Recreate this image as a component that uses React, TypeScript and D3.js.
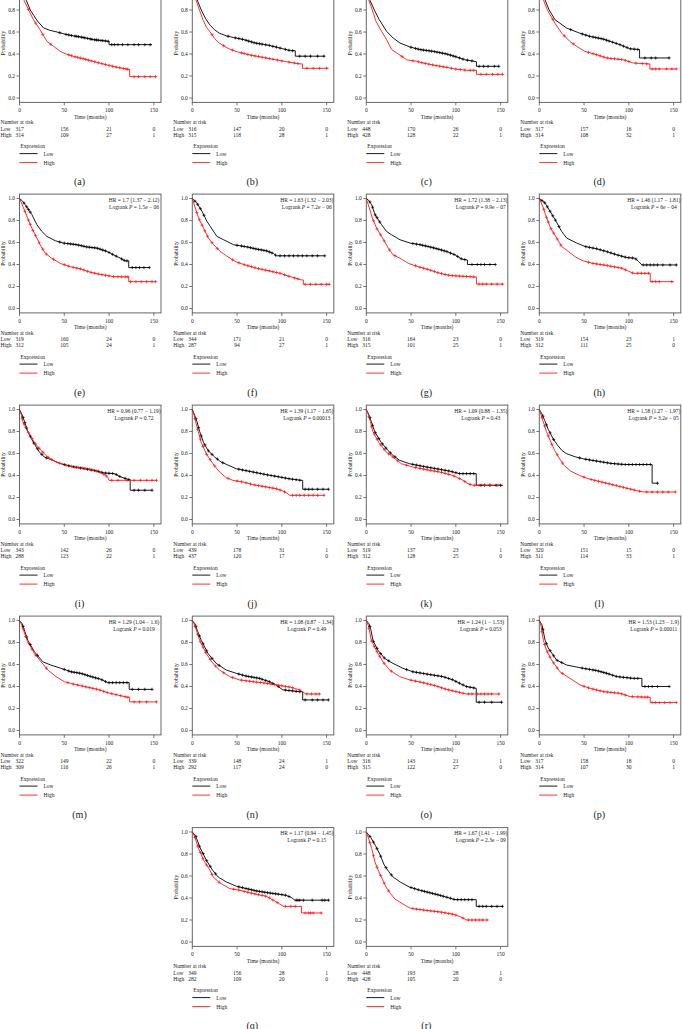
import React from "react";
import * as d3 from "d3";

type Pt = [number, number];

// ---------- data: knots of each Kaplan-Meier curve (time in months, survival) ----------
const aLow: Pt[] = [[0,1],[3,0.96],[7.5,0.89],[12,0.8],[16,0.75],[20,0.7],[27,0.636],[34,0.615],[42,0.6],[51,0.58],[60,0.565],[68,0.555],[83,0.53],[100,0.515],[100,0.485],[148,0.485]];
const aLowC = [45,52,55,58,62,64,66,69,71,73,76,79,81,84,86,88,91,93,96,99,103,106,110,115,121,128,133,140,146];
const aHigh: Pt[] = [[0,1],[2,0.95],[5,0.89],[12,0.77],[15.7,0.71],[23,0.62],[30.6,0.515],[38,0.47],[45.5,0.424],[51,0.403],[60,0.379],[72,0.355],[86.6,0.324],[98,0.3],[109,0.279],[123,0.258],[123,0.194],[152.6,0.194]];
const aHighC = [10,18,26,35,55,58,62,65,68,71,74,77,80,84,88,92,96,100,104,108,112,116,119,121,128,133,140,146,152];

const bLow: Pt[] = [[0,1],[3,0.95],[6,0.88],[10,0.8],[15,0.72],[20,0.66],[25,0.62],[30,0.59],[38,0.565],[46,0.55],[58,0.53],[70,0.5],[85,0.48],[95,0.46],[100,0.45],[110,0.43],[115,0.43],[115,0.38],[148,0.38]];
const bLowC = [40,48,52,56,60,63,66,69,72,75,78,82,86,90,94,98,104,108,112,120,126,132,140,147];
const bHigh: Pt[] = [[0,1],[2,0.94],[5,0.87],[8,0.8],[12,0.71],[16,0.64],[20,0.6],[25,0.54],[30,0.5],[40,0.45],[50,0.42],[65,0.39],[85,0.36],[105,0.33],[120,0.31],[123,0.31],[123,0.27],[152,0.27]];
const bHighC = [22,35,45,55,58,62,66,70,74,78,82,86,90,95,100,108,114,118,128,135,142,150];

const cLow: Pt[] = [[0,1],[2,0.95],[4,0.89],[9,0.8],[14.5,0.712],[22.7,0.606],[30,0.545],[37.6,0.5],[48.7,0.464],[60,0.44],[74.8,0.424],[89.7,0.4],[100.8,0.373],[110,0.348],[123,0.33],[123,0.288],[148.4,0.288]];
const cLowC = [50,55,58,61,64,67,70,73,76,79,82,85,88,91,94,97,100,104,108,113,118,126,131,136,143,148];
const cHigh: Pt[] = [[0,1],[1.5,0.95],[2.6,0.894],[6.7,0.8],[10.8,0.697],[17,0.606],[22.7,0.53],[28.3,0.44],[35.7,0.4],[45,0.348],[56,0.333],[67,0.312],[78.5,0.294],[89.7,0.279],[99,0.264],[112,0.252],[123,0.252],[123,0.215],[152.9,0.215]];
const cHighC = [40,52,58,62,66,70,74,78,82,86,90,95,100,105,110,116,120,128,134,141,147,152];

const dLow: Pt[] = [[0,1],[3,0.96],[6.3,0.894],[11,0.8],[17.5,0.712],[30.5,0.636],[45,0.59],[56.5,0.56],[71.4,0.536],[79,0.515],[90,0.485],[101,0.448],[112,0.44],[112,0.364],[145.8,0.364]];
const dLowC = [35,48,52,56,60,63,66,69,72,75,78,82,86,90,94,98,102,106,110,118,125,130,145];
const dHigh: Pt[] = [[0,1],[2,0.95],[4.5,0.894],[9,0.8],[17.5,0.68],[25,0.59],[34,0.515],[41.7,0.47],[51,0.424],[64,0.394],[75,0.364],[93.8,0.348],[105,0.318],[123.5,0.309],[123.5,0.264],[153,0.264]];
const dHighC = [15,28,38,55,60,64,68,72,76,80,84,88,92,96,100,108,115,120,126,130,134,142,148,153];

const eLow: Pt[] = [[0,1],[3,0.98],[6.3,0.945],[13.8,0.854],[19.4,0.762],[25,0.7],[30.6,0.655],[40,0.616],[49,0.595],[64,0.58],[75,0.56],[86.6,0.549],[98,0.518],[105,0.488],[112.7,0.457],[118,0.433],[122,0.433],[122,0.372],[145,0.372]];
const eLowC = [5,8,10,12,45,50,54,57,60,63,66,69,72,75,78,81,84,87,90,93,96,100,104,108,114,117,120,126,130,134,139,145];
const eHigh: Pt[] = [[0,1],[4.5,0.915],[9,0.823],[13.8,0.73],[19.4,0.64],[23,0.58],[28.7,0.503],[36,0.457],[45.5,0.41],[56.7,0.38],[68,0.36],[79,0.33],[90,0.31],[105,0.29],[122,0.287],[122,0.244],[152.6,0.244]];
const eHighC = [6,10,12,15,18,22,26,30,38,50,55,60,64,68,72,76,80,84,88,92,96,100,105,110,114,118,121,124,130,136,142,148,152];

const fLow: Pt[] = [[0,1],[5,0.96],[10.8,0.884],[16.3,0.793],[20,0.747],[27.5,0.655],[35,0.625],[46,0.58],[61,0.56],[72,0.54],[83,0.524],[90.6,0.5],[94,0.479],[148,0.479]];
const fLowC = [3,6,9,13,50,55,58,62,65,68,71,74,77,80,83,86,89,93,98,103,108,113,118,123,128,134,140,148];
const fHigh: Pt[] = [[0,1],[3.3,0.915],[7,0.823],[12.6,0.73],[18,0.64],[23.8,0.58],[31,0.52],[38.6,0.476],[48,0.427],[59,0.396],[72,0.366],[87,0.34],[98,0.32],[109,0.29],[122,0.26],[124,0.26],[124,0.22],[153.7,0.22]];
const fHighC = [5,8,11,14,17,22,28,45,52,58,62,66,70,74,78,82,86,90,94,98,103,108,114,118,126,132,138,144,150,153];

const gLow: Pt[] = [[0,1],[3,0.98],[6,0.945],[9.7,0.854],[17,0.762],[22.7,0.7],[28.3,0.67],[37.6,0.625],[48.8,0.595],[60,0.58],[71,0.56],[80.4,0.54],[89.7,0.518],[99,0.488],[106.4,0.45],[113,0.44],[113,0.4],[144.4,0.4]];
const gLowC = [4,7,10,12,15,52,56,60,63,66,69,72,75,78,81,84,87,90,94,98,102,106,110,118,124,128,132,138,144];
const gHigh: Pt[] = [[0,1],[3.3,0.915],[6.7,0.823],[11.5,0.73],[18.2,0.64],[24.6,0.549],[30,0.488],[37.6,0.457],[47,0.41],[58,0.38],[71,0.35],[82,0.32],[93.4,0.3],[121,0.287],[123,0.287],[123,0.222],[153,0.222]];
const gHighC = [8,12,16,20,26,32,55,60,64,68,72,76,80,84,88,92,96,100,104,108,112,116,120,126,130,134,140,146,152];

const hLow: Pt[] = [[0,1],[6.3,0.96],[12,0.884],[18.7,0.793],[25,0.7],[30.6,0.64],[41.8,0.595],[51,0.564],[64,0.543],[75,0.518],[86.6,0.488],[97.8,0.463],[107,0.457],[110.8,0.427],[114.6,0.396],[153.7,0.396]];
const hLowC = [3,6,9,12,15,18,22,52,56,60,64,68,72,76,80,84,88,92,96,100,104,108,116,120,124,128,132,138,146,153];
const hHigh: Pt[] = [[0,1],[4.5,0.915],[8.2,0.823],[12.7,0.73],[19.4,0.64],[25,0.564],[32.5,0.518],[40,0.47],[49,0.433],[60,0.41],[71.6,0.396],[82.8,0.38],[92,0.366],[99.6,0.34],[105,0.32],[123.9,0.32],[123.9,0.244],[150,0.244]];
const hHighC = [5,8,10,13,16,20,24,55,60,64,68,72,76,80,84,88,92,96,104,110,114,118,122,126,130,134,148];

const iLow: Pt[] = [[0,1],[3,0.95],[5.6,0.89],[9.3,0.8],[15.6,0.7],[22.3,0.613],[27.8,0.568],[37,0.538],[46.4,0.507],[57.5,0.483],[72.4,0.462],[87,0.44],[94.7,0.423],[106,0.417],[113,0.387],[122.5,0.362],[123.6,0.362],[123.6,0.266],[148.5,0.266]];
const iLowC = [4,6,8,12,16,20,25,30,50,55,60,64,68,72,76,80,84,88,92,96,100,104,108,112,118,122,128,133,140,148];
const iHigh: Pt[] = [[0,1],[2,0.95],[3.7,0.89],[9.3,0.8],[16.7,0.7],[24,0.628],[31.6,0.568],[40.8,0.522],[50,0.498],[61,0.477],[76,0.462],[87,0.438],[94.7,0.41],[98.4,0.387],[100,0.356],[153,0.356]];
const iHighC = [3,5,7,10,14,18,22,26,32,36,45,52,58,62,66,70,74,78,82,86,90,94,97,103,110,120,128,135,142,148,153];

const jLow: Pt[] = [[0,1],[2.5,0.95],[5.2,0.89],[8.2,0.8],[12.6,0.7],[17.5,0.628],[25,0.568],[32.3,0.522],[49,0.462],[67.6,0.432],[82.4,0.408],[97.3,0.387],[108.4,0.37],[121.4,0.356],[123.3,0.356],[123.3,0.275],[152,0.275]];
const jLowC = [4,7,10,14,18,22,28,34,52,56,60,64,68,72,76,80,84,88,92,96,100,104,108,112,116,120,126,130,134,140,146,152];
const jHigh: Pt[] = [[0,1],[2,0.95],[3.7,0.89],[6.7,0.8],[10,0.7],[15.6,0.598],[23,0.507],[30.4,0.432],[37.9,0.38],[45.3,0.356],[56.4,0.341],[67.6,0.317],[82.4,0.296],[93.6,0.28],[101,0.26],[106.6,0.236],[108.4,0.22],[147.4,0.22]];
const jHighC = [3,6,9,12,16,20,25,40,50,55,60,65,70,74,78,82,86,90,94,98,103,112,116,120,125,130,135,140,147];

const kLow: Pt[] = [[0,1],[3,0.95],[5.6,0.89],[9.3,0.8],[16.7,0.7],[24.2,0.628],[29.8,0.583],[37.2,0.538],[48.4,0.507],[63.3,0.483],[78,0.462],[93,0.44],[104,0.417],[122.8,0.417],[122.8,0.311],[152.6,0.311]];
const kLowC = [4,7,10,14,18,22,27,32,52,56,60,64,68,72,76,80,84,88,92,96,100,104,108,112,116,120,128,132,138,145,150];
const kHigh: Pt[] = [[0,1],[2.5,0.95],[4.5,0.89],[7.4,0.8],[14,0.7],[22.3,0.613],[29.8,0.568],[39,0.507],[52,0.477],[67,0.453],[82,0.432],[96.8,0.4],[102,0.38],[108,0.356],[113.5,0.326],[119,0.311],[147,0.311]];
const kHighC = [3,6,9,12,16,20,25,30,35,45,55,60,64,68,72,76,80,84,88,92,98,104,110,116,121,126,132,138,147];

const lLow: Pt[] = [[0,1],[3,0.96],[6,0.9],[10,0.82],[15,0.74],[20,0.68],[25,0.63],[30,0.6],[40,0.57],[50,0.55],[65,0.53],[80,0.51],[95,0.5],[126,0.5],[126,0.33],[132,0.33]];
const lLowC = [4,8,12,16,45,52,56,60,64,68,72,76,80,84,88,92,96,100,104,108,112,116,120,124,132];
const lHigh: Pt[] = [[0,1],[2,0.95],[4,0.9],[8,0.8],[12,0.72],[17,0.63],[22,0.56],[28,0.49],[35,0.44],[45,0.4],[55,0.37],[70,0.34],[85,0.31],[100,0.28],[110,0.26],[118,0.25],[152,0.25]];
const lHighC = [3,6,10,14,20,26,50,58,62,66,70,74,78,82,86,90,94,98,102,106,112,120,126,132,138,144,152];

const mLow: Pt[] = [[0,1],[3,0.97],[6,0.9],[9.3,0.82],[16.7,0.715],[26,0.625],[35,0.595],[46.4,0.565],[57.5,0.534],[68.7,0.519],[80,0.49],[91,0.465],[98.4,0.435],[122.5,0.435],[122.5,0.374],[148.5,0.374]];
const mLowC = [4,8,12,20,50,55,58,61,64,67,70,73,76,79,82,85,88,92,96,100,104,108,112,116,120,126,133,140,148];
const mHigh: Pt[] = [[0,1],[3,0.95],[5,0.9],[8.5,0.82],[16.7,0.7],[24,0.625],[31.6,0.55],[40.8,0.49],[50,0.444],[61,0.42],[72.4,0.4],[87.3,0.374],[98.4,0.344],[109.5,0.323],[120.7,0.302],[123,0.302],[123,0.26],[153,0.26]];
const mHighC = [4,7,10,14,18,30,54,60,65,70,74,78,82,86,90,94,98,103,108,113,118,121,128,134,142,153];

const nLow: Pt[] = [[0,1],[3,0.97],[6,0.9],[10,0.82],[17.5,0.7],[26.7,0.61],[37.9,0.55],[49,0.52],[60,0.495],[75,0.474],[86,0.444],[93.6,0.414],[101,0.37],[119.6,0.353],[123.3,0.353],[123.3,0.278],[152,0.278]];
const nLowC = [4,8,12,16,22,30,52,56,60,63,66,69,72,75,78,82,86,90,96,104,108,112,116,120,126,134,140,146,152];
const nHigh: Pt[] = [[0,1],[3,0.95],[5,0.9],[8.2,0.82],[15.6,0.7],[23,0.61],[30.4,0.55],[41.6,0.49],[52.7,0.46],[67.6,0.444],[82.4,0.43],[101,0.405],[110,0.393],[119.6,0.37],[127,0.332],[141.8,0.332]];
const nHighC = [3,6,9,12,15,20,26,35,45,55,60,64,68,72,76,80,84,88,92,96,100,104,108,112,120,128,133,138,142];

const oLow: Pt[] = [[0,1],[3,0.97],[5,0.92],[7.4,0.82],[13,0.73],[20.5,0.655],[29.8,0.61],[41,0.565],[52,0.534],[63.3,0.519],[74.4,0.504],[85.6,0.49],[96.8,0.46],[104,0.43],[111.6,0.4],[122.8,0.383],[122.8,0.257],[151.8,0.257]];
const oLowC = [4,8,12,16,20,25,45,52,56,60,64,68,72,76,80,84,88,92,96,100,104,108,112,116,120,126,132,140,151];
const oHigh: Pt[] = [[0,1],[2.5,0.95],[5.6,0.82],[11,0.73],[18.6,0.625],[26,0.55],[37.2,0.49],[48.4,0.46],[63.3,0.435],[78,0.405],[89.3,0.374],[100.5,0.353],[111.6,0.332],[148.9,0.332]];
const oHighC = [3,6,9,12,15,20,28,50,55,60,64,68,72,76,80,84,88,92,96,100,104,108,114,118,124,128,132,136,140,148];

const pLow: Pt[] = [[0,1],[3,0.96],[6.5,0.82],[10,0.75],[19.4,0.64],[30.6,0.595],[49.3,0.565],[64,0.545],[75.4,0.52],[86.6,0.49],[105,0.474],[114.6,0.474],[114.6,0.4],[146,0.4]];
const pLowC = [4,8,12,16,20,25,48,52,56,60,63,66,69,72,75,78,82,86,90,94,98,102,106,110,118,122,126,132,145];
const pHigh: Pt[] = [[0,1],[2,0.95],[4.5,0.82],[8,0.73],[13.8,0.64],[23,0.534],[34.3,0.474],[45.5,0.414],[56.7,0.383],[71.6,0.353],[90.3,0.338],[101.5,0.308],[123.9,0.302],[123.9,0.254],[153.7,0.254]];
const pHighC = [3,6,9,12,16,20,26,50,55,60,64,68,72,76,80,84,88,92,96,104,110,114,118,121,126,130,134,140,146,153];

const qLow: Pt[] = [[0,1],[4,0.96],[8.2,0.866],[15.6,0.745],[22.7,0.652],[29,0.59],[38.3,0.545],[49.5,0.506],[60.7,0.485],[71.8,0.464],[86.7,0.445],[97.9,0.433],[105,0.424],[111,0.403],[114.6,0.38],[153,0.38]];
const qLowC = [4,8,12,16,20,26,52,56,60,63,66,69,72,75,78,81,84,87,90,93,96,100,104,108,116,118,120,124,134,145,148,152];
const qHigh: Pt[] = [[0,1],[3,0.95],[6.3,0.866],[12.6,0.745],[19.7,0.652],[23.4,0.59],[31,0.536],[42,0.485],[53.2,0.47],[68,0.44],[83,0.415],[90.4,0.38],[96,0.354],[101.6,0.324],[122,0.324],[122,0.264],[144.4,0.264]];
const qHighC = [3,6,9,12,16,22,30,46,52,58,62,66,70,74,78,82,86,90,95,104,110,115,126,130,132,135,144];

const rLow: Pt[] = [[0,1],[5,0.95],[10,0.88],[15,0.8],[20,0.7],[25,0.64],[30,0.59],[38,0.545],[48,0.5],[60,0.47],[70,0.45],[82,0.425],[93,0.4],[99,0.385],[122.8,0.385],[122.8,0.324],[152.6,0.324]];
const rLowC = [4,8,12,16,22,28,50,54,58,62,65,68,71,74,77,80,83,86,90,94,98,102,106,110,114,118,126,130,134,140,146,152];
const rHigh: Pt[] = [[0,1],[3,0.93],[6,0.85],[10,0.72],[14,0.64],[18,0.57],[22,0.5],[27,0.44],[32,0.39],[40,0.35],[48,0.31],[55,0.3],[70,0.285],[85,0.27],[98,0.25],[105,0.23],[112,0.2],[135,0.2]];
const rHighC = [4,8,12,16,20,25,52,56,60,64,68,72,76,80,84,88,92,96,100,108,114,118,122,126,130,135];

// ---------- numbers at risk (at 0, 50, 100, 150 months) ----------
const riskLow: Record<string, number[]> = {
  a: [317,156,21,0], b: [316,147,20,0], c: [448,170,26,0], d: [317,157,16,0],
  e: [319,160,24,0], f: [344,171,21,0], g: [316,164,23,0], h: [319,154,23,1],
  i: [343,142,26,0], j: [439,178,31,1], k: [319,137,23,1], l: [320,151,15,0],
  m: [322,149,22,0], n: [339,148,24,1], o: [316,143,21,1], p: [317,158,18,0],
  q: [349,156,28,1], r: [448,193,28,1],
};
const riskHigh: Record<string, number[]> = {
  a: [314,109,27,1], b: [315,118,28,1], c: [428,128,22,1], d: [314,108,32,1],
  e: [312,105,24,1], f: [287,94,27,1], g: [315,101,25,1], h: [312,111,25,0],
  i: [288,123,22,1], j: [437,120,17,0], k: [312,128,25,0], l: [311,114,33,1],
  m: [309,116,26,1], n: [292,117,24,0], o: [315,122,27,0], p: [314,107,30,1],
  q: [282,109,20,0], r: [428,105,20,0],
};

// ---------- hazard ratio and logrank texts ----------
const hrText: Record<string, string> = {
  e: "HR = 1.7 (1.37 − 2.12)", f: "HR = 1.63 (1.32 − 2.03)", g: "HR = 1.72 (1.38 − 2.13)", h: "HR = 1.46 (1.17 − 1.81)",
  i: "HR = 0.96 (0.77 − 1.19)", j: "HR = 1.39 (1.17 − 1.65)", k: "HR = 1.09 (0.88 − 1.35)", l: "HR = 1.58 (1.27 − 1.97)",
  m: "HR = 1.29 (1.04 − 1.6)", n: "HR = 1.08 (0.87 − 1.34)", o: "HR = 1.24 (1 − 1.53)", p: "HR = 1.53 (1.23 − 1.9)",
  q: "HR = 1.17 (0.94 − 1.45)", r: "HR = 1.67 (1.41 − 1.99)",
};
const pText: Record<string, string> = {
  e: "1.5e − 06", f: "7.2e − 06", g: "9.9e − 07", h: "6e − 04",
  i: "0.72", j: "0.00013", k: "0.43", l: "3.2e − 05",
  m: "0.019", n: "0.49", o: "0.053", p: "0.00011",
  q: "0.15", r: "2.3e − 09",
};

const xTicks = [0, 50, 100, 150];
const yTicks = [0, 0.2, 0.4, 0.6, 0.8, 1.0];
const riskTimes = [0, 50, 100, 150];

const panelIds = ["a","b","c","d","e","f","g","h","i","j","k","l","m","n","o","p","q","r"];
const curvesLow: Record<string, Pt[]> = { a:aLow,b:bLow,c:cLow,d:dLow,e:eLow,f:fLow,g:gLow,h:hLow,i:iLow,j:jLow,k:kLow,l:lLow,m:mLow,n:nLow,o:oLow,p:pLow,q:qLow,r:rLow };
const curvesHigh: Record<string, Pt[]> = { a:aHigh,b:bHigh,c:cHigh,d:dHigh,e:eHigh,f:fHigh,g:gHigh,h:hHigh,i:iHigh,j:jHigh,k:kHigh,l:lHigh,m:mHigh,n:nHigh,o:oHigh,p:pHigh,q:qHigh,r:rHigh };
const censLow: Record<string, number[]> = { a:aLowC,b:bLowC,c:cLowC,d:dLowC,e:eLowC,f:fLowC,g:gLowC,h:hLowC,i:iLowC,j:jLowC,k:kLowC,l:lLowC,m:mLowC,n:nLowC,o:oLowC,p:pLowC,q:qLowC,r:rLowC };
const censHigh: Record<string, number[]> = { a:aHighC,b:bHighC,c:cHighC,d:dHighC,e:eHighC,f:fHighC,g:gHighC,h:hHighC,i:iHighC,j:jHighC,k:kHighC,l:lHighC,m:mHighC,n:nHighC,o:oHighC,p:pHighC,q:qHighC,r:rHighC };

// ---------- layout ----------
const W = 682, H = 1029;
const colLeft = [19.5, 192.3, 366.3, 539.3];
const rowBase = [98, 308.5, 519.5, 730.5, 942];
const BOX_W = 141.5;
const FONT = "'Liberation Serif', 'Times New Roman', serif";
const RED = "#ff1a1a";

function survAt(k: Pt[], t: number): number {
  for (let i = 0; i < k.length - 1; i++) {
    const [t0, s0] = k[i];
    const [t1, s1] = k[i + 1];
    if (t >= t0 && t <= t1) {
      if (t1 === t0) return s0;
      return s0 + ((s1 - s0) * (t - t0)) / (t1 - t0);
    }
  }
  return k[k.length - 1][1];
}

function Panel({ id, idx }: { id: string; idx: number }) {
  let row = Math.floor(idx / 4);
  let col = idx % 4;
  if (id === "q") { row = 4; col = 1; }
  if (id === "r") { row = 4; col = 2; }
  const left = colLeft[col];
  const y0 = rowBase[row];
  const x = d3.scaleLinear().domain([0, 150]).range([left, left + 134.3]);
  const y = d3.scaleLinear().domain([0, 1]).range([y0, y0 - 110]);
  const boxTop = y(1.04), boxBot = y(-0.04), boxRight = left + BOX_W;
  const line = d3.line<Pt>().x((d) => x(d[0])).y((d) => y(d[1]));
  const plus = (cx: number, cy: number, key: string, color: string) => (
    <path key={key} d={`M${cx - 1.6},${cy}H${cx + 1.6}M${cx},${cy - 1.6}V${cy + 1.6}`} stroke={color} strokeWidth={0.7} fill="none" />
  );
  const fs = 5.5;
  const low = curvesLow[id], high = curvesHigh[id];
  return (
    <g fontFamily={FONT} fill="#222">
      <rect x={left} y={boxTop} width={BOX_W} height={boxBot - boxTop} fill="none" stroke="#666" strokeWidth={1} />
      {yTicks.map((v) => (
        <g key={"y" + v}>
          <line x1={left - 3} x2={left} y1={y(v)} y2={y(v)} stroke="#555" strokeWidth={0.8} />
          <text x={left - 4.5} y={y(v) + 1.9} fontSize={fs} textAnchor="end">{v.toFixed(1)}</text>
        </g>
      ))}
      {xTicks.map((v) => (
        <g key={"x" + v}>
          <line x1={x(v)} x2={x(v)} y1={boxBot} y2={boxBot + 3} stroke="#555" strokeWidth={0.8} />
          <text x={x(v)} y={y0 + 14.3} fontSize={fs} textAnchor="middle">{v}</text>
        </g>
      ))}
      <text x={left + BOX_W / 2} y={y0 + 20.6} fontSize={fs} textAnchor="middle">Time (months)</text>
      <text transform={`translate(${left - 14.5},${y(0.5)}) rotate(-90)`} fontSize={fs} textAnchor="middle">Probability</text>
      <path d={line(low) || ""} fill="none" stroke="#000" strokeWidth={0.9} />
      <path d={line(high) || ""} fill="none" stroke={RED} strokeWidth={0.9} />
      {censLow[id].map((t, i) => plus(x(t), y(survAt(low, t)), "cl" + i, "#000"))}
      {censHigh[id].map((t, i) => plus(x(t), y(survAt(high, t)), "ch" + i, RED))}
      {hrText[id] && (
        <>
          <text x={boxRight - 27} y={y0 - 106.7} fontSize={fs} textAnchor="middle">{hrText[id]}</text>
          <text x={boxRight - 27} y={y0 - 99.7} fontSize={fs} textAnchor="middle">
            Logrank <tspan fontStyle="italic">P</tspan> = {pText[id]}
          </text>
        </>
      )}
      <text x={left - 19} y={y0 + 26.2} fontSize={fs}>Number at risk</text>
      <text x={left - 19} y={y0 + 32.6} fontSize={fs}>Low</text>
      <text x={left - 19} y={y0 + 38.6} fontSize={fs}>High</text>
      {riskTimes.map((t, i) => (
        <g key={"r" + t}>
          <text x={x(t)} y={y0 + 32.6} fontSize={fs} textAnchor="middle">{riskLow[id][i]}</text>
          <text x={x(t)} y={y0 + 38.6} fontSize={fs} textAnchor="middle">{riskHigh[id][i]}</text>
        </g>
      ))}
      <text x={left + 1} y={y0 + 50} fontSize={fs}>Expression</text>
      <line x1={left} x2={left + 18} y1={y0 + 55.6} y2={y0 + 55.6} stroke="#000" strokeWidth={0.9} />
      <text x={left + 24} y={y0 + 57.5} fontSize={fs}>Low</text>
      <line x1={left} x2={left + 18} y1={y0 + 64.6} y2={y0 + 64.6} stroke={RED} strokeWidth={0.9} />
      <text x={left + 24} y={y0 + 66.5} fontSize={fs}>High</text>
      <text x={left + 60} y={y0 + 87} fontSize={10} textAnchor="middle">({id})</text>
    </g>
  );
}

export default function App() {
  return (
    <svg width={W} height={H} style={{ position: "absolute", left: 0, top: 0, background: "#fff" }}>
      <rect x={0} y={0} width={W} height={H} fill="#fff" />
      {panelIds.map((id, i) => <Panel key={id} id={id} idx={i} />)}
    </svg>
  );
}
